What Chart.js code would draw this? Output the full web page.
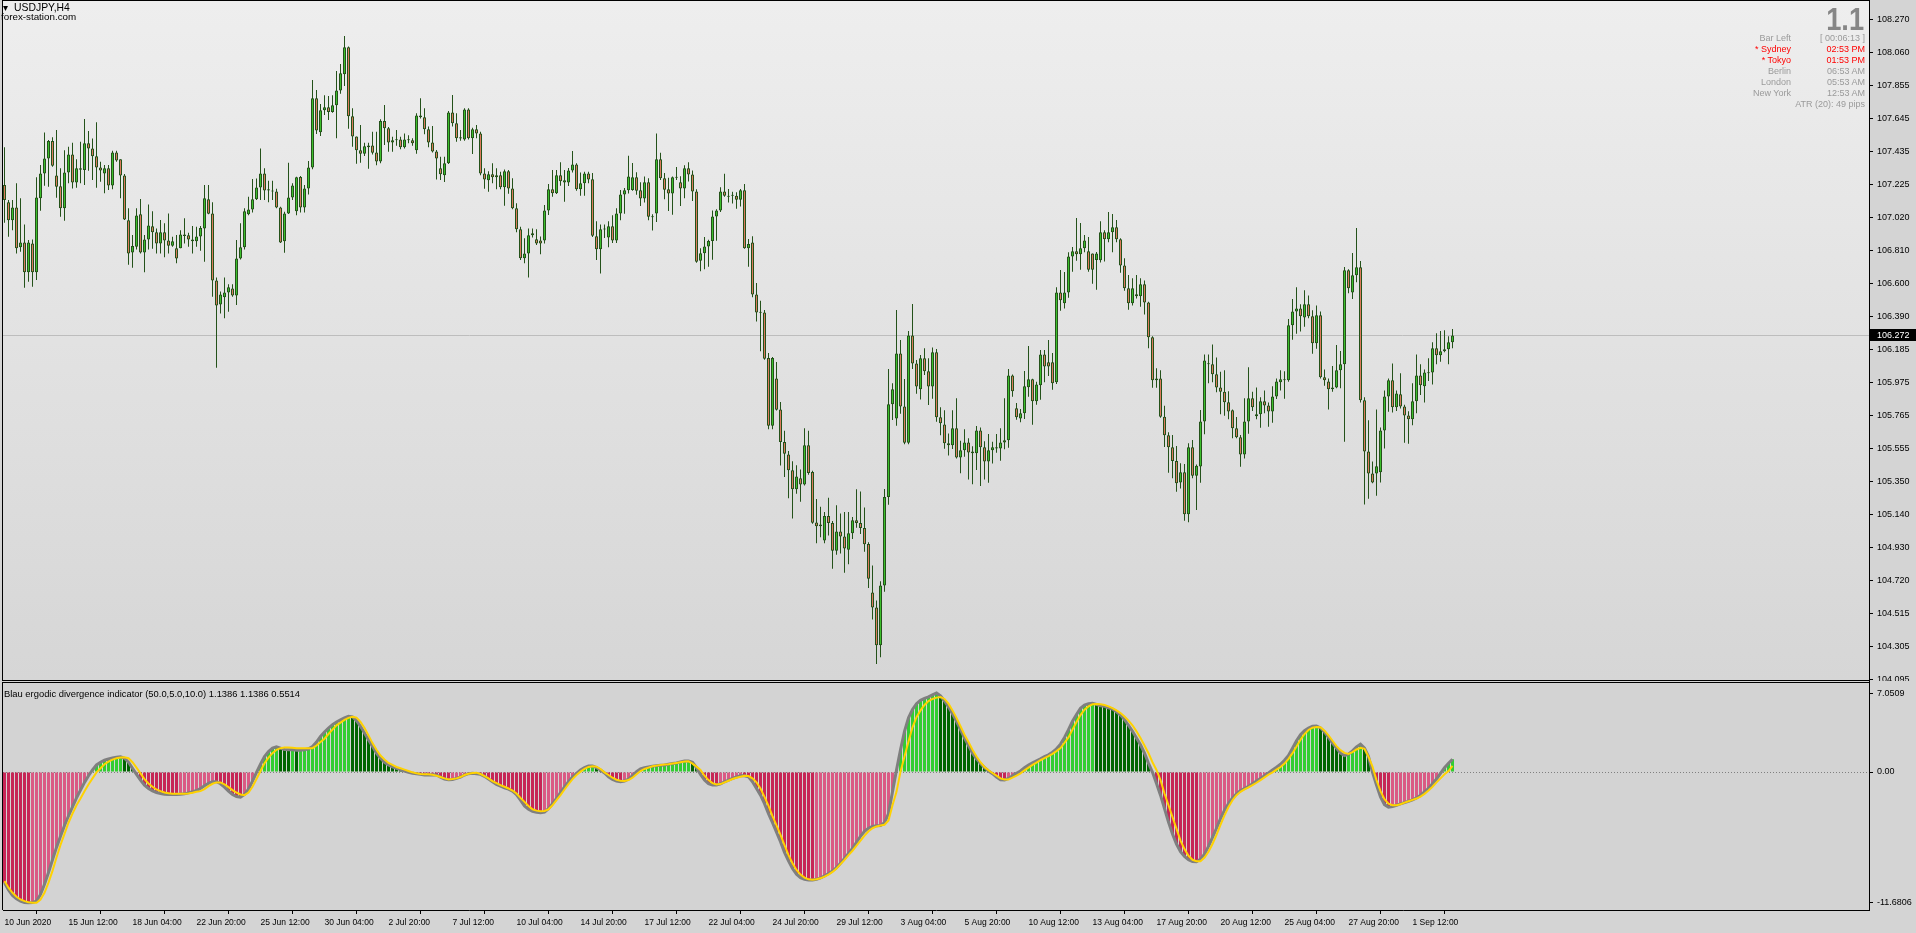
<!DOCTYPE html>
<html><head><meta charset="utf-8">
<script src="https://cdn.jsdelivr.net/npm/chart.js@4.4.1/dist/chart.umd.min.js"></script>
<style>
html,body{margin:0;padding:0;width:1916px;height:933px;overflow:hidden;background:#d4d4d4;font-family:"Liberation Sans",Arial,sans-serif;}
canvas{position:absolute;left:0;}
#main{top:0;}
#ind{top:681px;}
.t{position:absolute;white-space:nowrap;line-height:1;}
.r{text-align:right;}
</style></head><body>
<canvas id="main" width="1916" height="681"></canvas>
<canvas id="ind" width="1916" height="252"></canvas>

<div class="t" style="left:3px;top:3px;font-size:10px;color:#000">▾</div>
<div class="t" style="left:14px;top:3px;font-size:10.4px;color:#000">USDJPY,H4</div>
<div class="t" style="left:1px;top:12px;font-size:9.8px;color:#000">forex-station.com</div>

<div class="t" style="right:52px;top:4px;font-size:31px;font-weight:bold;color:#868686;transform:scaleX(0.88);transform-origin:right top">1.1</div>
<div class="t r" style="right:125px;top:34px;font-size:9px;color:#9a9a9a">Bar Left</div>
<div class="t r" style="right:51px;top:34px;font-size:9px;color:#9a9a9a">[ 00:06:13 ]</div>
<div class="t r" style="right:125px;top:45px;font-size:9px;color:#ff0000">* Sydney</div>
<div class="t r" style="right:51px;top:45px;font-size:9px;color:#ff0000">02:53 PM</div>
<div class="t r" style="right:125px;top:56px;font-size:9px;color:#ff0000">* Tokyo</div>
<div class="t r" style="right:51px;top:56px;font-size:9px;color:#ff0000">01:53 PM</div>
<div class="t r" style="right:125px;top:67px;font-size:9px;color:#9a9a9a">Berlin</div>
<div class="t r" style="right:51px;top:67px;font-size:9px;color:#9a9a9a">06:53 AM</div>
<div class="t r" style="right:125px;top:78px;font-size:9px;color:#9a9a9a">London</div>
<div class="t r" style="right:51px;top:78px;font-size:9px;color:#9a9a9a">05:53 AM</div>
<div class="t r" style="right:125px;top:89px;font-size:9px;color:#9a9a9a">New York</div>
<div class="t r" style="right:51px;top:89px;font-size:9px;color:#9a9a9a">12:53 AM</div>
<div class="t r" style="right:51px;top:100px;font-size:9px;color:#9a9a9a">ATR (20): 49 pips</div>

<div class="t" style="left:4px;top:689px;font-size:9.4px;color:#000">Blau ergodic divergence indicator (50.0,5.0,10.0) 1.1386 1.1386 0.5514</div>

<script>
// ---------------- DATA ----------------
const timeLabels = ["10 Jun 2020","15 Jun 12:00","18 Jun 04:00","22 Jun 20:00","25 Jun 12:00","30 Jun 04:00","2 Jul 20:00","7 Jul 12:00","10 Jul 04:00","14 Jul 20:00","17 Jul 12:00","22 Jul 04:00","24 Jul 20:00","29 Jul 12:00","3 Aug 04:00","5 Aug 20:00","10 Aug 12:00","13 Aug 04:00","17 Aug 20:00","20 Aug 12:00","25 Aug 04:00","27 Aug 20:00","1 Sep 12:00"];
const barsPerTimeLabel = 16;
const priceTicks = [108.270,108.060,107.855,107.645,107.435,107.225,107.020,106.810,106.600,106.390,106.185,105.975,105.765,105.555,105.350,105.140,104.930,104.720,104.515,104.305,104.095];
const indTicks = [7.0509, 0, -11.6806];
const indTickLabels = ["7.0509", "0.00", "-11.6806"];

const opens = [
107.223,107.114,107.000,107.082,106.829,106.860,106.671,106.854,106.671,107.139,
107.297,107.392,107.502,107.284,107.215,107.076,107.303,107.417,107.240,107.329,
107.318,107.487,107.455,107.405,107.335,107.297,107.329,107.221,107.430,107.386,
107.284,107.000,106.797,106.833,107.038,106.797,106.879,106.962,106.924,106.854,
106.924,106.873,106.839,106.823,106.823,106.911,106.905,106.879,106.867,106.898,
106.949,107.133,107.044,106.620,106.468,106.513,106.544,106.569,106.525,106.759,
106.829,107.038,107.069,107.133,107.208,107.297,107.189,107.189,107.183,107.082,
106.867,107.044,107.145,107.057,107.274,107.082,107.202,107.335,107.772,107.557,
107.696,107.715,107.685,107.728,107.822,107.924,108.095,107.658,107.531,107.443,
107.422,107.462,107.474,107.430,107.373,107.628,107.582,107.493,107.506,107.512,
107.462,107.512,107.506,107.443,107.664,107.652,107.576,107.493,107.436,107.329,
107.285,107.361,107.683,107.614,107.525,107.512,107.702,107.519,107.576,107.550,
107.297,107.253,107.291,107.272,107.285,107.209,107.310,107.202,107.076,106.943,
106.760,106.791,106.918,106.880,106.873,106.873,107.063,107.196,107.171,107.285,
107.240,107.240,107.316,107.354,107.196,107.234,107.297,107.260,106.899,106.817,
106.942,106.892,106.963,106.873,107.044,107.164,107.190,107.192,107.273,107.190,
107.138,107.241,107.023,107.044,107.386,107.267,107.196,107.170,107.273,107.241,
107.202,107.329,107.290,107.183,106.745,106.792,106.835,106.869,107.025,107.063,
107.183,107.155,107.159,107.155,107.130,107.190,106.824,106.860,106.531,106.419,
106.417,106.129,105.701,106.000,105.804,105.598,105.519,105.419,105.299,105.369,
105.329,105.577,105.408,105.089,105.076,104.974,105.130,105.085,104.909,105.031,
104.999,104.916,105.021,105.102,105.085,105.053,104.952,104.646,104.550,104.311,
104.689,105.250,105.836,105.747,106.158,105.823,105.593,106.272,106.095,105.931,
106.127,106.045,105.948,106.165,105.754,105.709,105.589,105.577,105.684,105.500,
105.545,105.595,105.538,105.526,105.671,105.564,105.475,105.545,105.557,105.557,
105.595,105.608,106.019,105.811,105.747,105.779,105.944,105.994,105.855,105.956,
106.152,106.102,106.102,105.975,106.544,106.475,106.544,106.772,106.804,106.785,
106.823,106.804,106.791,106.749,106.747,106.924,106.880,106.924,106.956,106.880,
106.715,106.570,106.475,106.532,106.519,106.595,106.481,106.260,106.000,106.000,
105.758,105.640,105.564,105.477,105.342,105.406,105.140,105.564,105.384,105.442,
105.728,106.095,106.089,106.026,105.943,105.916,105.849,105.798,105.684,105.627,
105.519,105.728,105.874,105.773,105.773,105.855,105.829,105.791,105.886,105.975,
105.988,105.988,106.336,106.424,106.443,106.386,106.469,106.393,106.222,106.399,
106.007,105.981,105.943,105.943,106.051,106.089,106.684,106.544,106.652,106.703,
105.861,105.538,105.399,105.399,105.406,105.671,105.886,105.988,105.817,105.899,
105.823,105.766,105.741,105.855,106.019,105.950,106.038,106.038,106.190,106.146,
106.171,106.184,106.228];

const highs = [
107.462,107.128,107.128,107.234,107.139,106.974,106.875,106.879,107.272,107.350,
107.556,107.508,107.525,107.571,107.329,107.443,107.466,107.491,107.386,107.497,
107.641,107.565,107.518,107.620,107.371,107.350,107.350,107.440,107.440,107.386,
107.293,107.076,106.907,107.076,107.135,106.907,107.101,107.057,106.949,107.002,
106.981,107.044,106.896,106.907,106.938,107.014,106.922,106.964,106.960,106.964,
107.223,107.223,107.114,106.639,106.550,106.639,106.595,106.595,106.875,106.981,
107.076,107.149,107.261,107.265,107.455,107.329,107.251,107.251,107.200,107.086,
107.055,107.365,107.234,107.276,107.280,107.223,107.375,107.888,107.825,107.736,
107.791,107.787,107.791,107.945,107.989,108.166,108.100,107.709,107.531,107.603,
107.491,107.491,107.561,107.561,107.639,107.730,107.590,107.529,107.571,107.529,
107.550,107.538,107.519,107.677,107.772,107.709,107.593,107.597,107.445,107.403,
107.403,107.692,107.793,107.677,107.571,107.709,107.709,107.586,107.603,107.561,
107.329,107.310,107.361,107.329,107.308,107.321,107.318,107.266,107.108,106.960,
106.886,106.949,106.949,106.943,106.897,107.097,107.230,107.318,107.318,107.367,
107.318,107.331,107.439,107.361,107.302,107.308,107.308,107.299,106.995,106.974,
106.974,106.995,107.033,107.076,107.192,107.205,107.408,107.363,107.305,107.241,
107.277,107.267,107.038,107.550,107.427,107.299,107.269,107.277,107.337,107.279,
107.348,107.367,107.316,107.196,106.824,106.894,106.877,107.063,107.070,107.209,
107.294,107.198,107.181,107.177,107.198,107.230,106.882,106.899,106.603,106.492,
106.432,106.161,106.135,106.103,105.851,105.669,105.540,105.476,105.451,105.423,
105.684,105.669,105.416,105.237,105.188,105.155,105.245,105.098,105.198,105.145,
105.155,105.155,105.123,105.299,105.284,105.183,104.963,104.817,104.595,104.717,
105.300,106.059,105.969,106.433,106.243,105.996,106.300,106.471,106.116,106.148,
106.190,106.127,106.196,106.186,105.817,105.798,105.652,105.798,105.874,105.606,
105.678,105.621,105.570,105.699,105.690,105.602,105.648,105.600,105.648,105.684,
105.874,106.059,106.025,105.844,105.806,106.047,106.205,105.998,105.979,106.180,
106.180,106.243,106.161,106.576,106.686,106.673,106.798,106.831,107.015,106.983,
106.907,106.895,106.791,106.800,106.994,106.937,107.053,107.040,107.002,106.886,
106.760,106.654,106.633,106.654,106.633,106.620,106.485,106.266,106.064,106.051,
105.827,105.659,105.642,105.572,105.463,105.458,105.589,105.610,105.456,105.800,
106.152,106.152,106.215,106.133,106.042,106.051,105.918,105.804,105.756,105.642,
105.874,106.070,105.916,105.943,105.880,105.924,105.848,105.950,106.000,106.051,
106.045,106.376,106.502,106.576,106.469,106.557,106.525,106.431,106.462,106.424,
106.057,106.000,106.078,106.211,106.173,106.705,106.690,106.793,106.951,106.743,
105.880,105.735,105.475,105.804,105.690,105.924,106.000,106.095,105.924,106.032,
105.834,105.792,105.969,106.152,106.089,106.057,106.127,106.228,106.285,106.300,
106.304,106.266,106.312];

const lows = [
106.985,106.896,106.938,106.791,106.801,106.574,106.612,106.580,106.622,107.061,
107.219,107.213,107.339,107.143,107.023,106.998,107.234,107.202,107.206,107.234,
107.223,107.314,107.255,107.206,107.244,107.171,107.192,107.196,107.371,107.139,
107.002,106.719,106.700,106.816,106.791,106.671,106.816,106.820,106.791,106.791,
106.766,106.791,106.833,106.728,106.823,106.854,106.833,106.791,106.833,106.808,
106.738,107.038,106.517,106.068,106.411,106.380,106.422,106.517,106.464,106.753,
106.816,107.033,107.050,107.128,107.128,107.128,107.114,107.128,107.076,106.856,
106.795,107.040,107.128,107.033,107.049,107.049,107.164,107.323,107.546,107.534,
107.666,107.635,107.681,107.519,107.801,107.850,107.580,107.466,107.358,107.365,
107.407,107.327,107.417,107.348,107.361,107.477,107.434,107.434,107.472,107.449,
107.455,107.487,107.472,107.422,107.645,107.544,107.462,107.430,107.259,107.255,
107.242,107.356,107.593,107.498,107.504,107.504,107.512,107.420,107.519,107.285,
107.200,107.181,107.234,107.196,107.196,107.093,107.169,107.070,106.924,106.749,
106.728,106.639,106.892,106.844,106.785,106.854,107.034,107.150,107.167,107.219,
107.118,107.217,107.302,107.188,107.156,107.156,107.234,106.894,106.749,106.663,
106.888,106.830,106.856,106.856,107.001,107.042,107.170,107.187,107.162,107.091,
107.113,107.001,106.935,106.989,107.256,107.134,107.059,107.036,107.256,107.091,
107.140,107.245,107.123,106.732,106.678,106.691,106.706,106.751,106.871,107.053,
107.149,107.113,107.106,107.074,107.087,106.820,106.706,106.514,106.360,106.171,
106.118,105.679,105.679,105.797,105.449,105.376,105.241,105.113,105.271,105.220,
105.322,105.391,105.081,104.957,104.995,104.957,105.006,104.796,104.884,104.892,
104.770,104.824,104.984,105.055,105.016,104.903,104.674,104.475,104.193,104.236,
104.650,105.200,105.737,105.701,105.777,105.583,105.583,106.059,105.903,105.867,
106.021,105.832,105.872,105.726,105.640,105.555,105.513,105.553,105.494,105.400,
105.505,105.360,105.330,105.420,105.320,105.360,105.340,105.462,105.530,105.479,
105.551,105.562,105.884,105.739,105.722,105.743,105.884,105.707,105.834,105.865,
105.975,106.015,105.929,105.964,106.428,106.443,106.511,106.675,106.745,106.688,
106.798,106.675,106.599,106.561,106.734,106.739,106.861,106.798,106.861,106.669,
106.555,106.435,106.462,106.506,106.454,106.405,106.190,105.941,105.941,105.751,
105.566,105.403,105.368,105.283,105.304,105.100,105.090,105.368,105.167,105.340,
105.646,105.969,105.975,105.912,105.773,105.764,105.741,105.621,105.621,105.441,
105.494,105.650,105.794,105.741,105.688,105.779,105.694,105.720,105.870,105.924,
105.872,105.979,106.245,106.283,106.296,106.327,106.380,106.156,106.188,106.000,
105.954,105.804,105.916,105.937,105.937,105.600,106.538,106.502,106.608,105.848,
105.203,105.239,105.336,105.258,105.342,105.557,105.789,105.785,105.794,105.810,
105.593,105.587,105.703,105.779,105.895,105.848,105.983,105.962,106.089,106.106,
106.165,106.089,106.190];

const closes = [
107.128,107.000,107.082,106.823,106.860,106.671,106.860,106.671,107.145,107.297,
107.392,107.502,107.346,107.213,107.076,107.303,107.417,107.240,107.329,107.320,
107.487,107.455,107.405,107.335,107.316,107.329,107.221,107.430,107.379,107.284,
107.006,106.791,106.837,107.031,106.797,106.879,106.968,106.924,106.854,106.924,
106.873,106.839,106.867,106.759,106.911,106.901,106.879,106.867,106.898,106.951,
107.139,107.042,106.620,106.462,106.531,106.544,106.576,106.525,106.759,106.829,
107.057,107.069,107.133,107.208,107.297,107.189,107.196,107.183,107.082,106.860,
107.044,107.145,107.221,107.272,107.082,107.202,107.335,107.772,107.569,107.696,
107.715,107.685,107.728,107.822,107.930,108.095,107.658,107.531,107.443,107.422,
107.468,107.474,107.428,107.373,107.628,107.582,107.493,107.506,107.512,107.462,
107.512,107.506,107.487,107.664,107.652,107.576,107.493,107.436,107.392,107.291,
107.361,107.683,107.614,107.519,107.517,107.702,107.519,107.576,107.550,107.297,
107.259,107.291,107.272,107.285,107.209,107.310,107.202,107.076,106.943,106.760,
106.791,106.905,106.905,106.854,106.854,107.063,107.196,107.171,107.285,107.247,
107.253,107.316,107.354,107.196,107.234,107.297,107.259,106.903,106.817,106.944,
106.948,106.963,106.873,107.044,107.164,107.190,107.277,107.273,107.187,107.138,
107.241,107.023,107.019,107.386,107.267,107.194,107.170,107.273,107.269,107.202,
107.329,107.290,107.183,106.738,106.792,106.835,106.869,107.025,107.063,107.183,
107.155,107.149,107.155,107.130,107.190,106.824,106.850,106.531,106.417,106.415,
106.124,105.701,106.129,105.801,105.598,105.523,105.419,105.299,105.380,105.329,
105.577,105.401,105.087,105.064,105.064,105.130,105.085,104.909,105.031,104.999,
104.924,105.021,105.102,105.085,105.053,104.950,104.732,104.550,104.311,104.689,
105.250,105.836,105.931,106.158,105.823,105.593,106.272,106.095,105.948,106.127,
106.045,105.948,106.165,105.754,105.716,105.589,105.577,105.684,105.500,105.545,
105.595,105.532,105.526,105.671,105.564,105.475,105.545,105.564,105.564,105.595,
105.608,106.019,105.918,105.754,105.779,105.950,105.994,105.855,105.962,106.152,
106.076,106.076,105.969,106.544,106.494,106.544,106.772,106.804,106.785,106.823,
106.873,106.688,106.688,106.791,106.924,106.880,106.924,106.956,106.880,106.715,
106.570,106.475,106.570,106.519,106.595,106.481,106.260,105.988,105.988,105.758,
105.640,105.564,105.477,105.336,105.406,105.140,105.564,105.384,105.448,105.728,
106.114,106.089,106.026,105.943,105.916,105.849,105.791,105.684,105.627,105.519,
105.728,105.874,105.817,105.760,105.855,105.829,105.791,105.886,105.981,105.994,
105.994,106.336,106.424,106.443,106.393,106.469,106.393,106.222,106.399,106.007,
105.988,105.931,105.931,106.051,106.089,106.684,106.570,106.652,106.703,105.861,
105.538,105.399,105.342,105.444,105.671,105.886,105.988,105.817,105.905,105.823,
105.766,105.741,105.855,106.019,105.956,106.038,106.032,106.190,106.146,106.171,
106.184,106.228,106.272];

// Blau ergodic (histogram = main line) and its signal line
const ergodic = [
-9.88,-10.54,-11.02,-11.32,-11.53,-11.65,-11.68,-11.65,-11.53,-10.93,
-10.03,-8.98,-7.84,-6.73,-5.74,-4.77,-3.93,-3.12,-2.31,-1.62,
-0.93,-0.33,0.18,0.63,0.87,1.05,1.17,1.26,1.32,1.35,
1.23,0.87,0.33,-0.21,-0.72,-1.17,-1.47,-1.68,-1.83,-1.92,
-1.98,-2.01,-2.01,-2.01,-1.98,-1.95,-1.86,-1.77,-1.65,-1.47,
-1.23,-1.02,-0.87,-0.87,-1.05,-1.35,-1.71,-2.01,-2.19,-2.25,
-2.01,-1.53,-0.81,-0.03,0.69,1.38,1.83,2.13,2.25,2.13,
2.01,1.98,1.98,1.95,1.95,1.98,2.07,2.28,2.67,3.18,
3.57,3.93,4.23,4.47,4.65,4.83,4.98,4.92,4.59,4.08,
3.48,2.88,2.28,1.68,1.23,0.87,0.63,0.45,0.33,0.21,
0.09,-0.03,-0.12,-0.15,-0.21,-0.27,-0.27,-0.24,-0.27,-0.45,
-0.63,-0.69,-0.66,-0.57,-0.45,-0.27,-0.15,-0.12,-0.15,-0.21,
-0.39,-0.63,-0.87,-1.11,-1.26,-1.41,-1.53,-1.71,-2.01,-2.52,
-3.03,-3.33,-3.51,-3.60,-3.63,-3.57,-3.27,-2.82,-2.37,-1.83,
-1.32,-0.87,-0.45,-0.12,0.18,0.39,0.54,0.54,0.39,0.18,
-0.09,-0.42,-0.66,-0.81,-0.87,-0.81,-0.63,-0.33,0.03,0.27,
0.39,0.45,0.51,0.57,0.60,0.63,0.69,0.75,0.81,0.90,
0.99,0.99,0.87,0.39,-0.21,-0.72,-1.05,-1.17,-1.17,-1.05,
-0.87,-0.72,-0.57,-0.45,-0.33,-0.33,-0.42,-0.87,-1.47,-2.07,
-2.82,-3.72,-4.53,-5.38,-6.22,-7.18,-7.93,-8.62,-9.13,-9.43,
-9.58,-9.64,-9.64,-9.58,-9.46,-9.28,-9.07,-8.83,-8.53,-8.14,
-7.72,-7.27,-6.82,-6.28,-5.74,-5.29,-5.02,-4.86,-4.80,-4.77,
-4.53,-3.72,-1.77,0.18,1.98,3.63,4.83,5.59,6.10,6.40,
6.58,6.70,6.88,7.05,6.79,6.34,5.80,5.20,4.53,3.78,
3.03,2.37,1.68,1.17,0.75,0.39,0.09,-0.15,-0.45,-0.69,
-0.72,-0.57,-0.33,-0.12,0.09,0.39,0.63,0.81,0.99,1.17,
1.38,1.53,1.77,2.07,2.49,3.09,3.78,4.53,5.14,5.68,
5.98,6.10,6.13,6.04,5.92,5.86,5.74,5.62,5.38,5.08,
4.68,4.17,3.63,3.03,2.43,1.68,0.78,-0.03,-1.02,-2.07,
-3.27,-4.47,-5.53,-6.43,-7.12,-7.54,-7.84,-7.99,-8.02,-7.78,
-7.33,-6.64,-5.83,-5.02,-4.17,-3.42,-2.82,-2.31,-1.95,-1.65,
-1.47,-1.29,-1.05,-0.81,-0.57,-0.33,-0.09,0.18,0.42,0.69,
1.05,1.47,2.13,2.79,3.33,3.69,3.93,4.08,4.11,3.93,
3.57,3.09,2.58,2.13,1.68,1.47,1.59,1.89,2.25,2.49,
2.13,1.38,-0.03,-1.17,-2.22,-2.91,-3.15,-3.09,-2.97,-2.85,
-2.73,-2.61,-2.49,-2.31,-2.07,-1.77,-1.47,-1.05,-0.63,-0.12,
0.39,0.78,1.1386];

const signal = [
-9.73,-10.33,-10.78,-11.14,-11.38,-11.53,-11.62,-11.68,-11.68,-11.38,
-10.78,-9.88,-8.83,-7.63,-6.52,-5.53,-4.53,-3.72,-2.97,-2.37,
-1.71,-1.11,-0.57,-0.03,0.33,0.69,0.93,1.11,1.23,1.29,
1.32,1.23,0.87,0.39,-0.12,-0.63,-1.02,-1.32,-1.56,-1.71,
-1.83,-1.89,-1.95,-1.95,-1.95,-1.95,-1.92,-1.86,-1.77,-1.71,
-1.53,-1.26,-1.05,-0.93,-0.93,-1.11,-1.35,-1.62,-1.83,-2.01,
-2.07,-1.83,-1.32,-0.63,0.09,0.78,1.29,1.68,1.98,2.13,
2.19,2.19,2.16,2.13,2.13,2.13,2.13,2.13,2.37,2.67,
2.97,3.39,3.78,4.17,4.41,4.65,4.83,4.92,4.86,4.47,
3.93,3.27,2.58,1.98,1.47,1.11,0.81,0.63,0.45,0.33,
0.21,0.09,-0.03,-0.12,-0.18,-0.21,-0.21,-0.24,-0.33,-0.45,
-0.57,-0.66,-0.63,-0.57,-0.45,-0.27,-0.15,-0.09,-0.06,-0.18,
-0.36,-0.57,-0.81,-0.99,-1.17,-1.32,-1.47,-1.65,-1.92,-2.31,
-2.67,-3.03,-3.33,-3.45,-3.51,-3.48,-3.33,-2.97,-2.52,-2.07,
-1.56,-1.08,-0.63,-0.27,0.03,0.27,0.45,0.51,0.48,0.27,
-0.03,-0.27,-0.51,-0.69,-0.78,-0.81,-0.72,-0.51,-0.21,0.09,
0.27,0.39,0.51,0.57,0.63,0.66,0.69,0.75,0.81,0.87,
0.93,0.96,0.75,0.48,0.18,-0.33,-0.72,-0.99,-1.11,-1.08,
-0.93,-0.78,-0.63,-0.51,-0.42,-0.33,-0.36,-0.57,-0.93,-1.47,
-2.22,-3.03,-3.93,-4.77,-5.62,-6.52,-7.42,-8.14,-8.74,-9.16,
-9.43,-9.58,-9.61,-9.58,-9.49,-9.34,-9.16,-8.92,-8.62,-8.23,
-7.84,-7.42,-7.03,-6.58,-6.13,-5.68,-5.29,-5.02,-4.86,-4.77,
-4.71,-4.32,-2.97,-1.77,0.03,1.38,2.73,3.99,4.89,5.50,
5.98,6.34,6.52,6.64,6.70,6.52,6.10,5.50,4.83,4.08,
3.33,2.67,1.98,1.38,0.87,0.45,0.15,-0.09,-0.33,-0.57,
-0.66,-0.66,-0.51,-0.33,-0.12,0.15,0.39,0.63,0.84,1.05,
1.23,1.41,1.62,1.86,2.13,2.61,3.09,3.78,4.47,5.08,
5.56,5.86,6.04,6.07,6.04,5.98,5.86,5.71,5.50,5.26,
4.95,4.59,4.17,3.63,3.03,2.37,1.68,0.87,0.18,-0.72,
-1.92,-2.97,-4.02,-5.08,-6.13,-6.88,-7.48,-7.84,-7.96,-7.96,
-7.63,-7.12,-6.43,-5.62,-4.71,-3.87,-3.12,-2.52,-2.07,-1.77,
-1.56,-1.38,-1.17,-0.96,-0.72,-0.48,-0.24,-0.03,0.21,0.45,
0.75,1.17,1.68,2.28,2.88,3.39,3.75,3.96,4.02,3.99,
3.69,3.27,2.79,2.31,1.95,1.71,1.62,1.77,2.01,2.16,
2.07,1.38,0.48,-0.72,-1.71,-2.43,-2.82,-2.97,-2.97,-2.88,
-2.73,-2.61,-2.49,-2.37,-2.19,-1.95,-1.65,-1.32,-0.93,-0.57,
-0.21,0.09,0.5514];

// ---------------- STYLE / LAYOUT ----------------
const FONT = "'Liberation Sans', Arial, sans-serif";
Chart.defaults.font.family = FONT;
Chart.defaults.color = '#000';
const X_MIN = -0.375, X_MAX = 466.125;   // 4 px per bar, chart shift on the right
const AXIS_W = 47;
const C_OUT = '#24521a', C_UP = '#3cbf2c', C_DN = '#dc7a5c';
const H_UP_RISE = '#32cd32', H_UP_FALL = '#006400', H_DN_FALL = '#c62656', H_DN_RISE = '#da5a84';

const wickData = highs.map((h, i) => ({x: i, y: [lows[i], h]}));
const bodyData = opens.map((o, i) => ({x: i, y: [Math.min(o, closes[i]), Math.max(o, closes[i])]}));
const bodyColors = opens.map((o, i) => closes[i] >= o ? C_UP : C_DN);

const lastClose = closes[closes.length - 1];

const mainDeco = {
  id: 'mainDeco',
  beforeDraw(c) {
    const {ctx, chartArea: a} = c;
    ctx.save();
    const g = ctx.createLinearGradient(0, a.top, 0, a.bottom);
    g.addColorStop(0, '#eeeeee'); g.addColorStop(1, '#d6d6d6');
    ctx.fillStyle = g;
    ctx.fillRect(a.left, a.top, a.right - a.left, a.bottom - a.top);
    ctx.restore();
  },
  beforeDatasetsDraw(c) {
    const {ctx, chartArea: a, scales: {y}} = c;
    const py = Math.round(y.getPixelForValue(lastClose)) + 0.5;
    ctx.save();
    ctx.strokeStyle = '#bdbdbd'; ctx.lineWidth = 1;
    ctx.beginPath(); ctx.moveTo(a.left, py); ctx.lineTo(a.right, py); ctx.stroke();
    ctx.restore();
  },
  afterDraw(c) {
    const {ctx, chartArea: a, scales: {y}} = c;
    ctx.save();
    ctx.fillStyle = '#000';
    ctx.fillRect(2, 0, 1, c.height);
    ctx.fillRect(2, 0, a.right - 2, 1);
    ctx.fillRect(2, c.height - 1, a.right - 2, 1);
    ctx.fillRect(a.right, 0, 1, c.height);
    const py = Math.round(y.getPixelForValue(lastClose));
    ctx.fillRect(a.right + 1, py - 6, AXIS_W, 12);
    ctx.fillStyle = '#fff';
    ctx.font = '9px ' + FONT;
    ctx.textBaseline = 'middle';
    ctx.fillText(lastClose.toFixed(3), a.right + 8, py + 0.5);
    ctx.restore();
  }
};

new Chart(document.getElementById('main'), {
  type: 'bar',
  data: {
    datasets: [
      {data: bodyData, backgroundColor: bodyColors, borderColor: C_OUT, borderWidth: 1, borderSkipped: false,
       barThickness: 3, grouped: false, inflateAmount: 0, minBarLength: 1, order: 0},
      {data: wickData, backgroundColor: C_OUT, borderWidth: 0, barThickness: 1, grouped: false, inflateAmount: 0, order: 1}
    ]
  },
  options: {
    animation: false, responsive: false, devicePixelRatio: 1, events: [],
    layout: {padding: {left: 3, top: 1, right: 0, bottom: 1}},
    plugins: {legend: {display: false}, tooltip: {enabled: false}},
    scales: {
      x: {type: 'linear', display: false, min: X_MIN, max: X_MAX, offset: false},
      y: {
        position: 'right', min: 104.0919, max: 108.3877, beginAtZero: false,
        afterBuildTicks: s => { s.ticks = priceTicks.map(v => ({value: v})); },
        afterFit: s => { s.width = AXIS_W; s.paddingTop = 0; s.paddingBottom = 0; },
        ticks: {callback: v => Number(v).toFixed(3), font: {size: 9}, color: '#000', padding: 4, autoSkip: false},
        grid: {drawOnChartArea: false, drawTicks: true, tickLength: 4, color: '#000', tickColor: '#000'},
        border: {display: false}
      }
    }
  },
  plugins: [mainDeco]
});

const histColors = ergodic.map((v, i) => {
  const p = i > 0 ? ergodic[i - 1] : v;
  if (v >= 0) return v >= p ? H_UP_RISE : H_UP_FALL;
  return v <= p ? H_DN_FALL : H_DN_RISE;
});

const indDeco = {
  id: 'indDeco',
  beforeDraw(c) {
    const {ctx, chartArea: a} = c;
    ctx.save();
    ctx.fillStyle = '#d3d3d3';
    ctx.fillRect(a.left, a.top, a.right - a.left, a.bottom - a.top);
    ctx.restore();
  },
  beforeDatasetsDraw(c) {
    const {ctx, chartArea: a, scales: {y}} = c;
    const py = Math.round(y.getPixelForValue(0)) + 0.5;
    ctx.save();
    ctx.strokeStyle = '#808080'; ctx.lineWidth = 1; ctx.setLineDash([1, 2]);
    ctx.beginPath(); ctx.moveTo(a.left, py); ctx.lineTo(a.right, py); ctx.stroke();
    ctx.restore();
  },
  afterDraw(c) {
    const {ctx, chartArea: a} = c;
    ctx.save();
    ctx.fillStyle = '#000';
    ctx.fillRect(2, 1, 1, a.bottom - 1);
    ctx.fillRect(2, 1, a.right - 2, 1);
    ctx.fillRect(a.right, 0, 1, a.bottom + 1);
    ctx.restore();
  }
};

new Chart(document.getElementById('ind'), {
  type: 'bar',
  data: {
    datasets: [
      {type: 'line', data: signal.map((v, i) => ({x: i, y: v})), borderColor: '#ffd200', borderWidth: 2,
       pointRadius: 0, tension: 0, fill: false, order: 0},
      {type: 'line', data: ergodic.map((v, i) => ({x: i, y: v})), borderColor: '#7f7f7f', borderWidth: 3,
       pointRadius: 0, tension: 0, fill: false, order: 1},
      {type: 'bar', data: ergodic.map((v, i) => ({x: i, y: v})), backgroundColor: histColors, borderWidth: 0,
       barThickness: 3, grouped: false, inflateAmount: 0, order: 2}
    ]
  },
  options: {
    animation: false, responsive: false, devicePixelRatio: 1, events: [],
    layout: {padding: {left: 3, top: 2, right: 0, bottom: 0}},
    plugins: {legend: {display: false}, tooltip: {enabled: false}},
    scales: {
      x: {
        type: 'linear', position: 'bottom', min: X_MIN, max: X_MAX, offset: false,
        afterBuildTicks: s => { s.ticks = timeLabels.map((_, k) => ({value: k * barsPerTimeLabel})); },
        afterFit: s => { s.height = 23; s.paddingLeft = 0; s.paddingRight = 0; },
        ticks: {callback: (v, idx) => timeLabels[idx], align: 'start', font: {size: 8.5}, color: '#000',
                padding: 4, maxRotation: 0, autoSkip: false},
        grid: {drawOnChartArea: false, drawTicks: true, tickLength: 4, color: '#000', tickColor: '#000'},
        border: {display: true, color: '#000'}
      },
      y: {
        position: 'right', min: -12.32, max: 7.946, beginAtZero: false,
        afterBuildTicks: s => { s.ticks = indTicks.map(v => ({value: v})); },
        afterFit: s => { s.width = AXIS_W; s.paddingTop = 0; s.paddingBottom = 0; },
        ticks: {callback: (v, idx) => indTickLabels[idx], font: {size: 9}, color: '#000', padding: 4, autoSkip: false},
        grid: {drawOnChartArea: false, drawTicks: true, tickLength: 4, color: '#000', tickColor: '#000'},
        border: {display: false}
      }
    }
  },
  plugins: [indDeco]
});
</script>
</body></html>
